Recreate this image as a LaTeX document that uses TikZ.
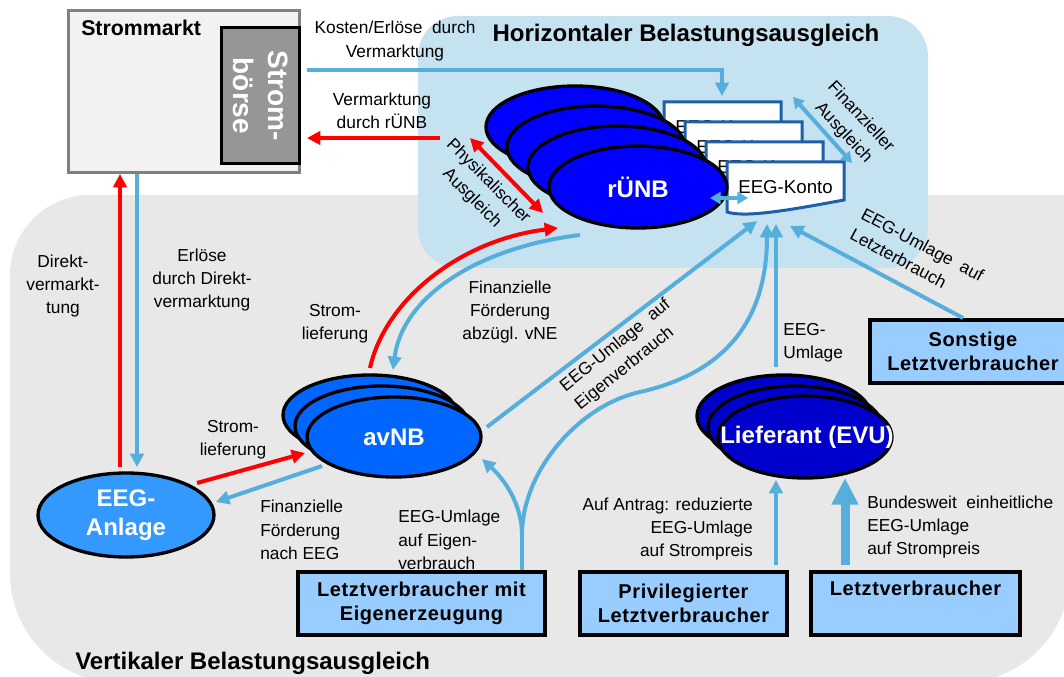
\documentclass[tikz,border=0pt]{standalone}
\usepackage{fontspec}
\setmainfont{Liberation Sans}
\usetikzlibrary{shapes.geometric,arrows.meta,calc}

\definecolor{bghor}{RGB}{197,226,241}
\definecolor{bgver}{RGB}{232,232,232}
\definecolor{runbblue}{RGB}{0,0,255}
\definecolor{avnbblue}{RGB}{0,102,255}
\definecolor{evublue}{RGB}{0,0,204}
\definecolor{anlblue}{RGB}{51,153,255}
\definecolor{boxblue}{RGB}{153,204,255}
\definecolor{flowblue}{RGB}{86,174,221}
\definecolor{flowred}{RGB}{255,0,0}
\definecolor{kontoedge}{RGB}{31,94,168}
\definecolor{marktfill}{RGB}{242,242,242}
\definecolor{marktedge}{RGB}{128,128,128}
\definecolor{boersefill}{RGB}{150,150,150}

\begin{document}
\begin{tikzpicture}[x=0.75pt,y=-0.75pt,
  lbl/.style={font=\fontsize{13}{17.5}\selectfont, inner sep=0pt, align=center},
  areatitle/.style={font=\fontsize{18}{22}\selectfont\bfseries, inner sep=0pt},
  actortext/.style={text=white, font=\fontsize{18}{22}\selectfont\bfseries, align=center, inner sep=0pt},
  actor/.style={ellipse, draw=black, line width=2.5pt, inner sep=0pt, actortext},
  runbshape/.style={actor, fill=runbblue, minimum width=133.5pt, minimum height=61.5pt},
  avnbshape/.style={actor, fill=avnbblue, minimum width=130.5pt, minimum height=60pt},
  evushape/.style={actor, fill=evublue, minimum width=130.5pt, minimum height=61.5pt},
  anlshape/.style={actor, fill=anlblue, minimum width=132pt, minimum height=63pt},
  consumer/.style={rectangle, draw=black, line width=2.5pt, fill=boxblue,
    minimum height=47.25pt, inner sep=0pt, align=center,
    font=\fontsize{15}{18}\selectfont\bfseries\addfontfeature{LetterSpace=3}},
  kontoline/.style={fill=white, draw=kontoedge, line width=2.25pt},
  kontotext/.style={font=\fontsize{14}{17}\selectfont, inner sep=0pt},
  money/.style={draw=flowblue, line width=3pt, -{Triangle[length=10pt,width=10pt]}},
  moneyline/.style={draw=flowblue, line width=3pt},
  moneyboth/.style={draw=flowblue, line width=3pt,
    {Triangle[length=8pt,width=9pt]}-{Triangle[length=8pt,width=9pt]}},
  power/.style={draw=flowred, line width=3pt, -{Triangle[length=10pt,width=10pt]}},
  powerboth/.style={draw=flowred, line width=3pt,
    {Triangle[length=10pt,width=10pt]}-{Triangle[length=10pt,width=10pt]}}
]
\useasboundingbox (0,0) rectangle (1064,677);

% area of the vertical balancing
\fill[bgver] (10,275) .. controls (10,231) and (46,195) .. (90,195) -- (1070,195)
  -- (1070,573) .. controls (1070,634) and (1021,683) .. (960,683) -- (120,683)
  .. controls (59,683) and (10,634) .. (10,573) -- cycle;
% area of the horizontal balancing
\fill[bghor, rounded corners=30pt] (418,16) rectangle (928,268);

\node[areatitle] (horiz) at (686,35) {Horizontaler Belastungsausgleich};
\node[areatitle, anchor=west] (vert) at (75,663) {Vertikaler Belastungsausgleich};

% electricity market with exchange
\node[draw=marktedge, fill=marktfill, line width=2.25pt, minimum width=173.25pt,
  minimum height=121.5pt, inner sep=0pt] (markt) at (183.5,92) {};
\node[font=\fontsize{16}{19}\selectfont\bfseries, anchor=west, inner sep=0pt] (markttitle) at (81,28) {Strommarkt};
\node[draw=black, fill=boersefill, line width=2.25pt, minimum width=102pt,
  minimum height=58.5pt, inner sep=0pt, text=white, align=center, rotate=-90,
  font=\fontsize{21}{26}\selectfont\bfseries] (boerse) at (260.5,96) {Strom-\\börse};

% stacked EEG accounts
\foreach \k in {1,2,3,4}{
  \pgfmathsetmacro\kx{727-21*(4-\k)}
  \pgfmathsetmacro\ky{162-20*(4-\k)}
  \filldraw[kontoline] (\kx,\ky) -- (\kx+117,\ky) -- (\kx+117,\ky+38)
    .. controls (\kx+63,\ky+48) and (\kx+18,\ky+56) .. (\kx,\ky+50) -- cycle;
  \node[kontotext] (konto\k) at (\kx+58.5,\ky+25) {EEG-Konto};
}

% transmission system operators
\foreach \k/\cx/\cy in {1/575/127, 2/596/147, 3/617/167}{
  \node[runbshape] (runb\k) at (\cx,\cy) {};
}
\node[runbshape] (runb) at (638,187) {rÜNB};

% distribution system operators
\foreach \k/\cx/\cy in {1/370/415, 2/382/426}{
  \node[avnbshape] (avnb\k) at (\cx,\cy) {};
}
\node[avnbshape] (avnb) at (394,437) {avNB};

% suppliers
\foreach \k/\cx/\cy in {1/784/416, 2/795/427}{
  \node[evushape] (evu\k) at (\cx,\cy) {};
}
\node[evushape] (evu) at (805,437) {};
\node[actortext] (evutext) at (807,437) {Lieferant (EVU)};

% plant
\node[anlshape] (anlage) at (126,515) {EEG-\\Anlage};

% consumers
\node[consumer, minimum width=154.5pt] (sonst) at (973,351.5) {Sonstige\\Letztverbraucher};
\node[consumer, minimum width=185.25pt] (eigen) at (421.5,603.5) {Letztverbraucher mit\\Eigenerzeugung};
\node[consumer, minimum width=155.25pt] (priv) at (683.5,603.5) {Privilegierter\\Letztverbraucher};
\node[consumer, minimum width=156.75pt] (letzt) at (915.5,603.5) {Letztverbraucher\\\strut};

% connector end points
\coordinate (kostenA) at (307,70);
\coordinate (kostenB) at (722,96);
\coordinate (vmA) at (440,138);
\coordinate (vmB) at (307,138);
\coordinate (physA) at (470,138);
\coordinate (physB) at (543,213);
\coordinate (finA) at (793,97);
\coordinate (finB) at (852,163);
\coordinate (klA) at (710,198);
\coordinate (klB) at (748,198);
\coordinate (dvA) at (120,467);
\coordinate (dvB) at (120,174);
\coordinate (edA) at (137,174);
\coordinate (edB) at (137,467);
\coordinate (slA) at (370,368);
\coordinate (slB) at (558,228);
\coordinate (ffA) at (580,235);
\coordinate (ffB) at (393,370);
\coordinate (anlR) at (197,483);
\coordinate (avnbR) at (305,453);
\coordinate (avnbB) at (322,466);
\coordinate (anlB) at (216,502);
\coordinate (avnbOut) at (487,427);
\coordinate (kontoA) at (757,221);
\coordinate (eigsplit) at (522,535);
\coordinate (avnbIn) at (482,459);
\coordinate (kontoC) at (767,224);
\coordinate (evuOut) at (776,367);
\coordinate (kontoD) at (776,224);
\coordinate (sonstOut) at (963,318);
\coordinate (kontoE) at (790,226);
\coordinate (privOut) at (776,565);
\coordinate (evuInP) at (776,480);
\coordinate (letztOut) at (845,565);
\coordinate (evuInL) at (845,478);

% money flows
\draw[money] (kostenA) -| (kostenB);
\draw[moneyboth] (finA) -- (finB);
\draw[moneyboth] (klA) -- (klB);
\draw[money] (edA) -- (edB);
\draw[money] (ffA) .. controls (475,248) and (402,298) .. (ffB);
\draw[money] (avnbB) -- (anlB);
\draw[money] (avnbOut) -- (kontoA);
\draw[moneyline] (eigen.north -| eigsplit) -- (eigsplit);
\draw[money] (eigsplit) .. controls (522,505) and (505,480) .. (avnbIn);
\draw[money] (eigsplit) .. controls (522,470) and (580,405) .. (640,392)
  .. controls (715,375) and (767,330) .. (kontoC);
\draw[money] (evuOut) -- (kontoD);
\draw[money] (sonstOut) -- (kontoE);
\draw[money] (privOut) -- (evuInP);
\draw[draw=flowblue, line width=6.75pt, -{Triangle[length=20pt,width=19pt]}] (letztOut) -- (evuInL);

% power flows
\draw[power] (vmA) -- (vmB);
\draw[powerboth] (physA) -- (physB);
\draw[power] (dvA) -- (dvB);
\draw[power] (slA) .. controls (385,300) and (460,240) .. (slB);
\draw[power] (anlR) -- (avnbR);

% labels
\node[lbl] (lkosten) at (395,41) {Kosten/Erlöse~ durch\\Vermarktung};
\node[lbl] (lverm) at (382,111) {Vermarktung\\durch rÜNB};
\node[lbl, rotate=-45] (lphys) at (480,190) {Physikalischer\\Ausgleich};
\node[lbl, rotate=-47] (lfinaus) at (852,125) {Finanzieller\\Ausgleich};
\node[lbl, align=left, anchor=west, rotate=-28] (lsonst) at (857,223) {EEG-Umlage~ auf\\Letzterbrauch};
\node[lbl] (ldirekt) at (63,286) {Direkt-\\vermarkt-\\tung};
\node[lbl] (lerloese) at (202,280) {Erlöse\\durch Direkt-\\vermarktung};
\node[lbl] (lstrom1) at (335,324) {Strom-\\lieferung};
\node[lbl] (lfoerd1) at (510,312) {Finanzielle\\Förderung\\abzügl. vNE};
\node[lbl, align=left, anchor=west, rotate=39] (leigen1) at (570,398) {EEG-Umlage~ auf\\Eigenverbrauch};
\node[lbl, align=left, anchor=west] (lumlage) at (783,343) {EEG-\\Umlage};
\node[lbl] (lstrom2) at (233,440) {Strom-\\lieferung};
\node[lbl, align=left, anchor=west] (lfoerd2) at (260,530) {Finanzielle\\Förderung\\nach EEG};
\node[lbl, align=left, anchor=west] (leigen2) at (398,540) {EEG-Umlage\\auf Eigen-\\verbrauch};
\node[lbl, align=right, anchor=east] (lantrag) at (753,529) {Auf Antrag: reduzierte\\EEG-Umlage\\auf Strompreis};
\node[lbl, align=left, anchor=west] (lbund) at (867,527) {Bundesweit~ einheitliche\\EEG-Umlage\\auf Strompreis};
\end{tikzpicture}
\end{document}
